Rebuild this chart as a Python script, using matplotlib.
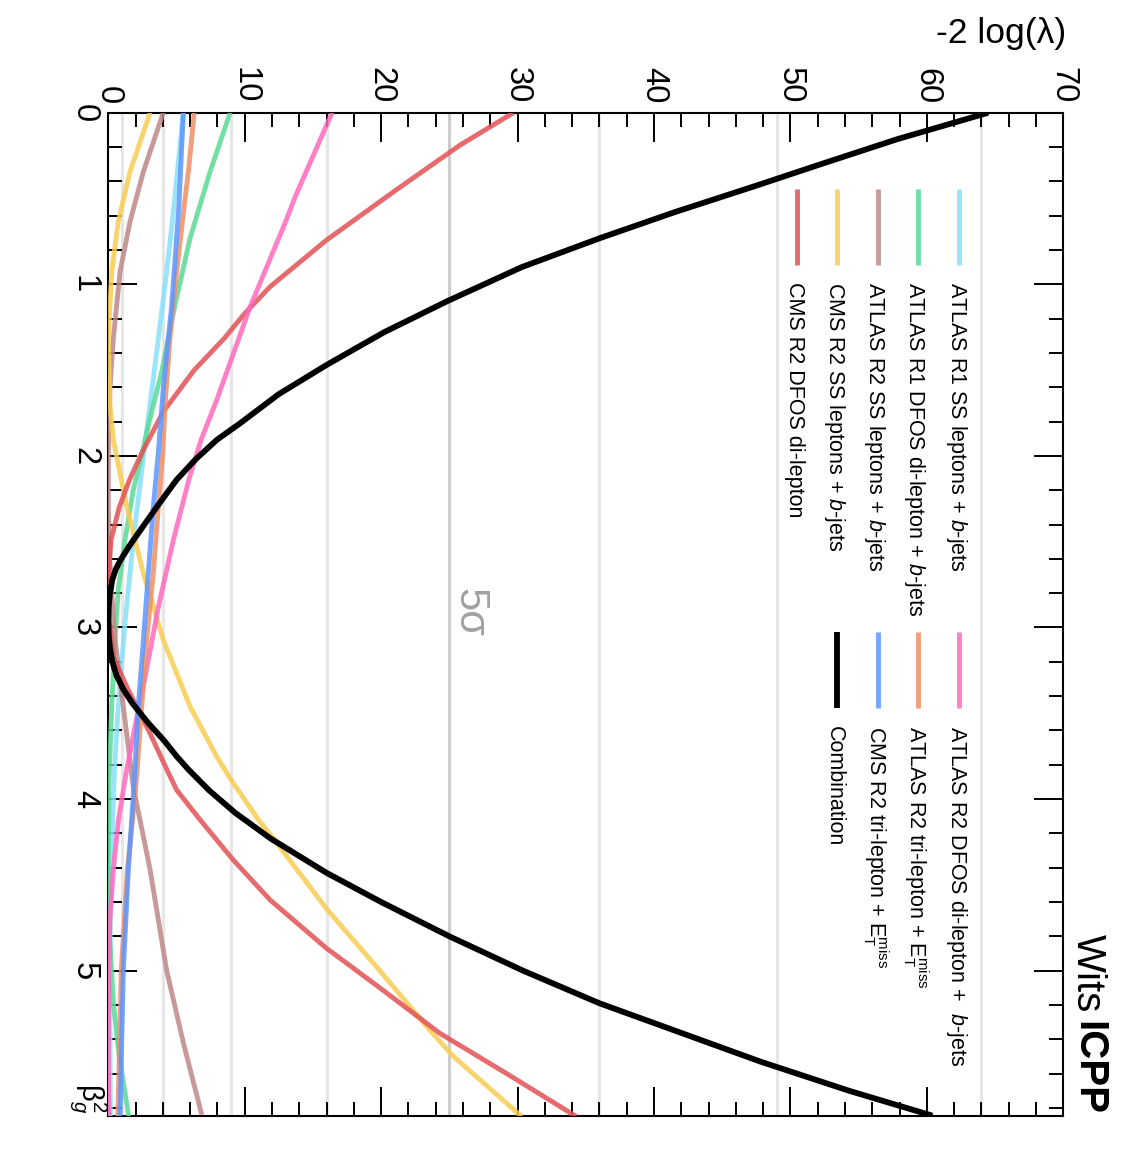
import matplotlib
matplotlib.use("Agg")
import matplotlib.pyplot as plt
from matplotlib.ticker import MultipleLocator
from matplotlib.lines import Line2D

plt.rcParams['font.family'] = ['Liberation Sans', 'DejaVu Sans']
plt.rcParams['mathtext.fontset'] = 'custom'
plt.rcParams['mathtext.rm'] = 'Liberation Sans'
plt.rcParams['mathtext.it'] = 'Liberation Sans:italic'
plt.rcParams['mathtext.bf'] = 'Liberation Sans:bold'

# ---------------- data (beta_g^2 , -2 log(lambda)) ----------------
labels = [
    "ATLAS R1 SS leptons + $b$-jets",
    "ATLAS R1 DFOS di-lepton + $b$-jets",
    "ATLAS R2 SS leptons + $b$-jets",
    "CMS R2 SS leptons + $b$-jets",
    "CMS R2 DFOS di-lepton",
    "ATLAS R2 DFOS di-lepton +  $b$-jets",
    r"ATLAS R2 tri-lepton + $\mathrm{E}_{\mathrm{T}}^{\mathrm{miss}}$",
    r"CMS R2 tri-lepton + $\mathrm{E}_{\mathrm{T}}^{\mathrm{miss}}$",
    "Combination",
]
colors = ["#87e0fa", "#5ada96", "#be8887", "#f8cc51", "#e25155",
          "#ff6abe", "#f08f65", "#5c95ff", "#000000"]

b_atlas_r1_ss = [0, 0.538, 0.927, 1.315, 1.99, 2.49, 2.976, 3.46, 3.83, 4.41, 5.0, 5.85]
v_atlas_r1_ss = [5.5, 4.82, 4.28, 3.67, 2.6, 1.83, 1.22, 0.73, 0.45, 0.2, 0.1, 0.15]

b_atlas_r1_dfos = [0, 0.344, 0.732, 1.12, 1.51, 1.8, 1.976, 2.2, 2.49, 2.78, 3.07, 3.46, 3.9, 4.4, 4.8, 5.19, 5.5, 5.85]
v_atlas_r1_dfos = [8.93, 7.46, 5.99, 4.89, 3.91, 3.0, 2.5, 1.83, 1.22, 0.73, 0.49, 0.25, 0.05, 0.0, 0.1, 0.37, 0.8, 1.5]

b_atlas_r2_ss = [0, 0.344, 0.635, 0.927, 1.315, 1.606, 1.976, 2.3, 2.6, 2.8, 3.07, 3.46, 3.93, 4.41, 5.0, 5.42, 5.84]
v_atlas_r2_ss = [4.03, 2.57, 1.59, 0.86, 0.37, 0.12, 0.0, 0.0, 0.1, 0.25, 0.49, 1.1, 1.83, 3.06, 4.28, 5.5, 6.85]

b_cms_r2_ss = [0, 0.344, 0.635, 0.927, 1.31, 1.70, 1.907, 2.296, 2.684, 3.073, 3.46, 3.753, 3.9, 4.12, 4.24, 4.64, 5.0, 5.35, 5.5, 5.85]
v_cms_r2_ss = [3.06, 1.59, 0.73, 0.25, 0.0, 0.12, 0.37, 1.35, 2.57, 4.03, 5.99, 7.95, 9.1, 11.0, 12.2, 16.0, 19.9, 23.6, 25.3, 30.3]

b_cms_r2_dfos = [0, 0.188, 0.45, 0.742, 1.014, 1.17, 1.315, 1.5, 1.742, 1.976, 2.14, 2.3, 2.49, 2.72, 2.95, 3.17, 3.345, 3.617, 3.83, 3.947, 4.12, 4.355, 4.588, 4.87, 5.1, 5.365, 5.6, 5.85]
v_cms_r2_dfos = [29.7, 25.8, 21.1, 16.0, 11.86, 10.0, 8.5, 6.3, 4.03, 2.5, 1.55, 0.8, 0.2, 0.0, 0.05, 0.37, 1.35, 3.06, 4.3, 5.01, 6.72, 9.16, 11.86, 16.0, 19.9, 24.3, 29.2, 34.3]

b_atlas_r2_dfos = [0, 0.49, 0.635, 1.13, 1.295, 1.674, 1.907, 2.14, 2.49, 2.88, 3.267, 3.56, 3.85, 4.12, 4.41, 4.7, 5.0, 5.5, 5.85]
v_atlas_r2_dfos = [16.4, 13.7, 13.0, 10.4, 9.66, 7.95, 6.8, 5.9, 4.77, 3.67, 2.75, 2.0, 1.3, 0.75, 0.37, 0.12, 0.03, 0.0, 0.05]

b_atlas_r2_tri = [0, 0.344, 0.538, 0.927, 1.315, 1.70, 1.976, 2.296, 2.684, 3.07, 3.46, 3.947, 4.41, 5.0, 5.85]
v_atlas_r2_tri = [6.3, 5.87, 5.57, 5.01, 4.52, 4.16, 4.0, 3.67, 3.3, 2.81, 2.45, 2.0, 1.4, 0.95, 0.7]

b_cms_r2_tri = [0, 0.538, 1.12, 1.606, 1.976, 2.296, 2.684, 3.073, 3.46, 3.9, 4.41, 5.0, 5.85]
v_cms_r2_tri = [5.5, 5.18, 4.65, 4.03, 3.67, 3.3, 2.93, 2.57, 2.2, 1.9, 1.47, 1.1, 0.86]

b_comb = [0, 0.155, 0.306, 0.425, 0.58, 0.732, 0.9, 1.10, 1.28, 1.47, 1.64, 1.81, 1.907, 2.02, 2.14, 2.276, 2.45, 2.53,
          2.607, 2.66, 2.72, 2.8, 2.88, 2.96, 3.04, 3.12, 3.2, 3.28, 3.36, 3.44, 3.55, 3.66, 3.75, 3.83, 3.95, 4.08,
          4.23, 4.43, 4.6, 4.8, 5.0, 5.19, 5.36, 5.53, 5.7, 5.845]
v_comb = [64.5, 57.8, 52.0, 47.5, 41.5, 36.0, 30.3, 24.8, 20.2, 16.0, 12.5, 9.66, 7.95, 6.4, 5.0, 3.75, 2.2, 1.5,
          0.9, 0.55, 0.3, 0.12, 0.03, 0.0, 0.03, 0.12, 0.3, 0.6, 1.1, 1.75, 2.85, 4.1, 5.0, 5.9, 7.4, 9.3,
          11.9, 16.0, 20.0, 25.0, 30.4, 36.0, 41.9, 47.8, 54.3, 60.4]

series_b = [b_atlas_r1_ss, b_atlas_r1_dfos, b_atlas_r2_ss, b_cms_r2_ss, b_cms_r2_dfos,
            b_atlas_r2_dfos, b_atlas_r2_tri, b_cms_r2_tri, b_comb]
series_v = [v_atlas_r1_ss, v_atlas_r1_dfos, v_atlas_r2_ss, v_cms_r2_ss, v_cms_r2_dfos,
            v_atlas_r2_dfos, v_atlas_r2_tri, v_cms_r2_tri, v_comb]

sigma_levels = [1, 4, 9, 16, 25, 36, 49, 64]
x_ticks_major = [0, 10, 20, 30, 40, 50, 60, 70]
y_ticks_major = [0, 1, 2, 3, 4, 5]

# ---------------- figure ----------------
W, H = 1122, 1176
fig = plt.figure(figsize=(W / 100, H / 100), dpi=100)
L, R, T, B = 108.3, 1063.3, 112.7, 1116.0
ax = fig.add_axes([L / W, (H - B) / H, (R - L) / W, (B - T) / H])

def fpx(px, py):
    return (px / W, 1 - py / H)

for lvl in sigma_levels:
    ax.axvline(lvl, color="#cccccc" if lvl == 25 else "#e6e6e6", lw=2.2, zorder=0)

for i, (bb, vv) in enumerate(zip(series_b, series_v)):
    black = colors[i] == "#000000"
    ax.plot(vv, bb, color=colors[i], lw=4.2 if black else 3.5,
            alpha=1.0 if black else 0.85, solid_capstyle='butt',
            solid_joinstyle='round', zorder=3 + i, clip_on=True)

ax.set_xlim(0, 70)
ax.set_ylim(5.847, 0)
ax.set_xticks(x_ticks_major)
ax.set_yticks(y_ticks_major)
ax.xaxis.set_minor_locator(MultipleLocator(2))
ax.yaxis.set_minor_locator(MultipleLocator(0.2))
ax.tick_params(which='both', direction='in', top=True, bottom=True, left=True, right=True,
               labeltop=True, labelbottom=False, labelleft=True, labelright=False,
               width=1.4, color='black')
ax.tick_params(which='major', length=21)
ax.tick_params(which='minor', length=10)
ax.tick_params(axis='x', which='major', pad=6.5, labelsize=23.5)
ax.tick_params(axis='y', which='major', pad=6, labelsize=23.5)
for lab in ax.get_xticklabels():
    lab.set_rotation(-90)
    lab.set_ha('center')
    lab.set_va('bottom')
for lab in ax.get_yticklabels():
    lab.set_rotation(-90)
    lab.set_ha('right')
    lab.set_va('center')
for sp in ax.spines.values():
    sp.set_linewidth(1.5)

# axis titles
fig.text(*fpx(1066, 43), r"-2 log(λ)", fontsize=25.5, ha='right', va='baseline')
fig.text(*fpx(82, 1113), r"$\mathrm{\beta}_{g}^{2}$", fontsize=21, rotation=-90,
         rotation_mode='anchor', ha='right', va='baseline')

# 5 sigma label
fig.text(*fpx(458, 588), "5σ", fontsize=30, color="#a0a0a0", rotation=-90,
         rotation_mode='anchor', ha='left', va='baseline')

# Wits ICPP
fig.text(*fpx(1077, 934), "Wits", fontsize=29, rotation=-90,
         rotation_mode='anchor', ha='left', va='baseline')
fig.text(*fpx(1077, 1115), "ICPP", fontsize=29, fontweight='bold', rotation=-90,
         rotation_mode='anchor', ha='right', va='baseline')

# legend (manual, rotated)
col1_x = [959, 918, 877.7, 837, 797]
col2_x = [959, 918, 877.7, 837]
entries = [(x, 188.6, 265.4, 282) for x in col1_x] + [(x, 632, 708.4, 725.5) for x in col2_x]
for i, (x, y0, y1, yt) in enumerate(entries):
    black = colors[i] == "#000000"
    p0, p1 = fpx(x, y0), fpx(x, y1)
    fig.add_artist(Line2D([p0[0], p1[0]], [p0[1], p1[1]], transform=fig.transFigure,
                          color=colors[i], lw=4.2 if black else 3.5,
                          alpha=1.0 if black else 0.85, solid_capstyle='butt'))
    fig.text(*fpx(x - 8.5, yt), labels[i], fontsize=15.5, rotation=-90,
             rotation_mode='anchor', ha='left', va='baseline')

fig.savefig("out.png", dpi=100, facecolor='white')
